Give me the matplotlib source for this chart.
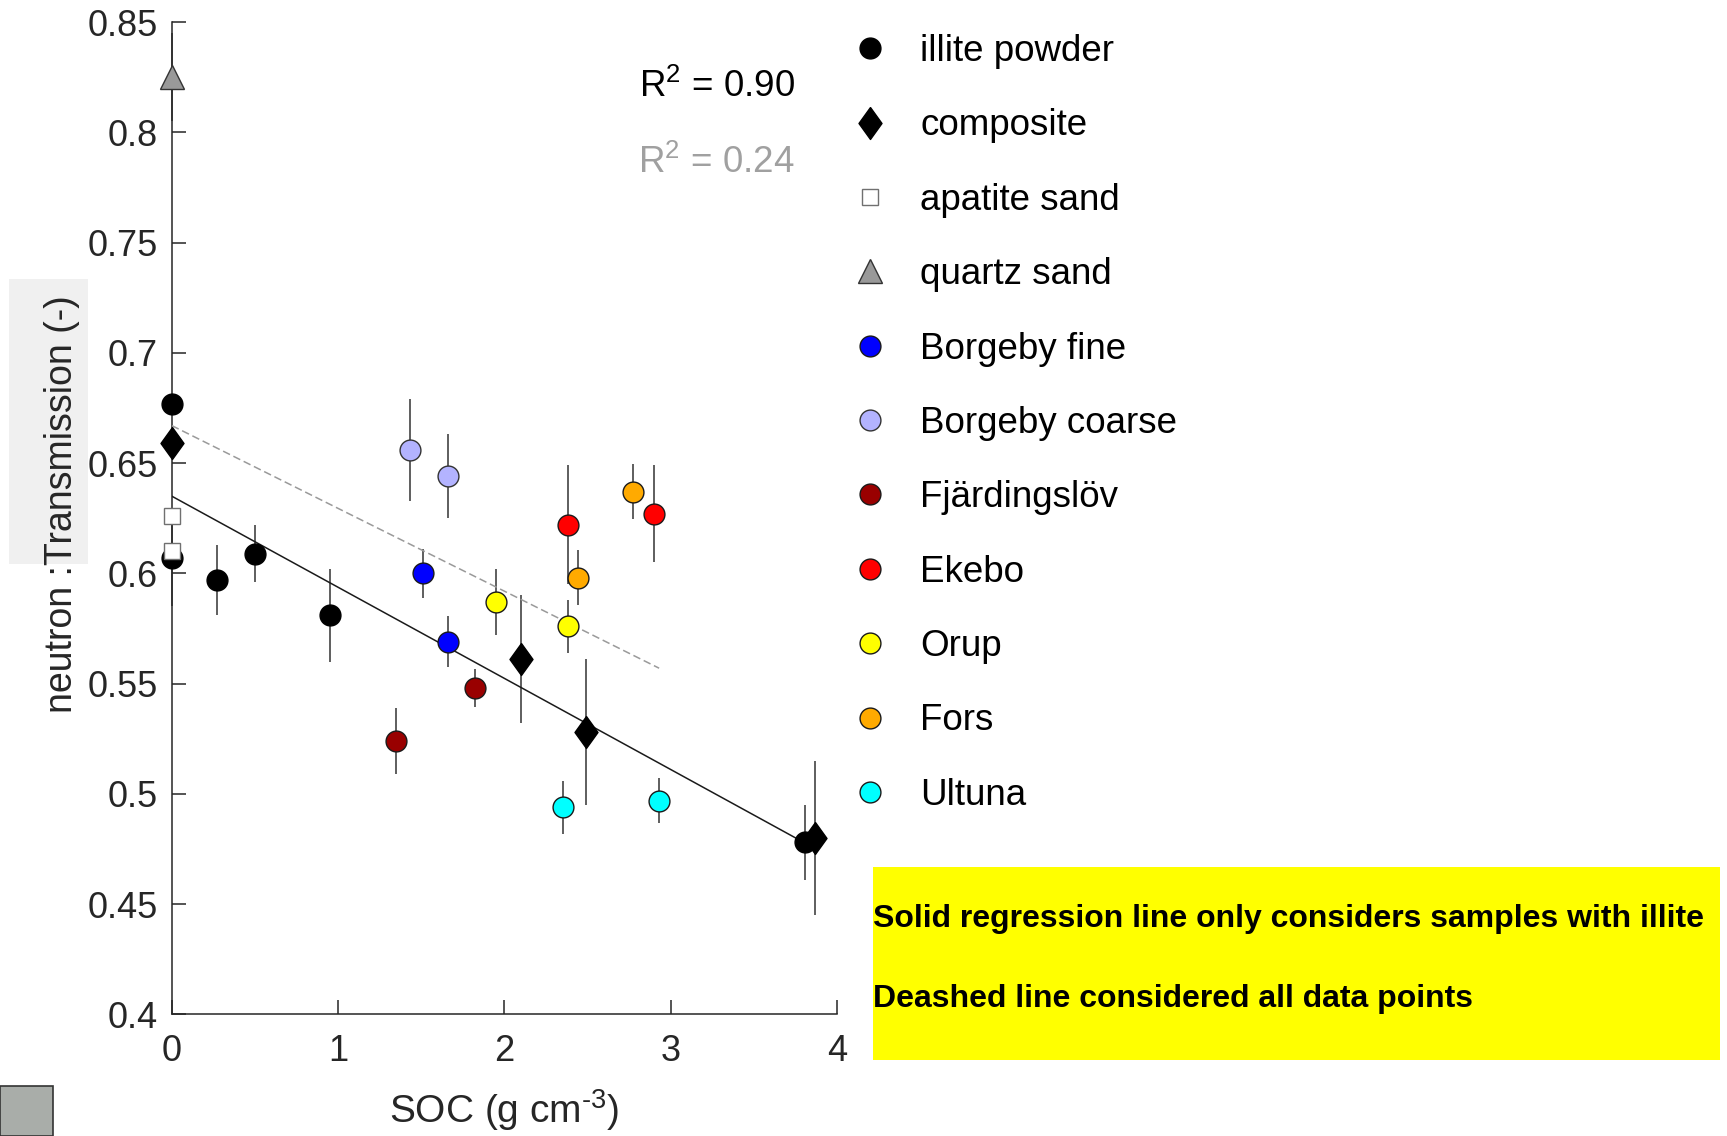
import numpy as np
import matplotlib
matplotlib.use("Agg")
import matplotlib.pyplot as plt
from matplotlib.lines import Line2D
from matplotlib.patches import Rectangle

# data: x = SOC, y = transmission, e = error bar half length
illite_x = [0.0, 0.0, 0.27, 0.50, 0.95, 3.81]
illite_y = [0.677, 0.607, 0.597, 0.609, 0.581, 0.478]
illite_e = [0.0, 0.022, 0.016, 0.013, 0.021, 0.017]

comp_x = [0.0, 2.10, 2.49, 3.87]
comp_y = [0.659, 0.561, 0.528, 0.480]
comp_e = [0.0, 0.029, 0.033, 0.035]

apatite_x = [0.0, 0.0]
apatite_y = [0.626, 0.610]
apatite_e = [0.0, 0.0]

quartz_x = [0.0]
quartz_y = [0.825]
quartz_e = [0.02]

bfine_x = [1.51, 1.66]
bfine_y = [0.600, 0.569]
bfine_e = [0.011, 0.0115]

bcoarse_x = [1.43, 1.66]
bcoarse_y = [0.656, 0.644]
bcoarse_e = [0.023, 0.019]

fjard_x = [1.35, 1.82]
fjard_y = [0.524, 0.548]
fjard_e = [0.015, 0.0085]

ekebo_x = [2.38, 2.90]
ekebo_y = [0.622, 0.627]
ekebo_e = [0.027, 0.022]

orup_x = [1.95, 2.38]
orup_y = [0.587, 0.576]
orup_e = [0.015, 0.012]

fors_x = [2.77, 2.44]
fors_y = [0.637, 0.598]
fors_e = [0.0125, 0.0125]

ultuna_x = [2.35, 2.93]
ultuna_y = [0.494, 0.497]
ultuna_e = [0.012, 0.010]

# regression lines (end points)
fit_illite_x = [0.0, 3.80]
fit_illite_y = [0.635, 0.478]
fit_all_x = [0.0, 2.93]
fit_all_y = [0.667, 0.557]

r2_illite = "0.90"
r2_all = "0.24"

yticks = [0.4, 0.45, 0.5, 0.55, 0.6, 0.65, 0.7, 0.75, 0.8, 0.85]
ytick_labels = ["0.4", "0.45", "0.5", "0.55", "0.6", "0.65", "0.7", "0.75", "0.8", "0.85"]
xticks = [0, 1, 2, 3, 4]

plt.rcParams['font.family'] = ['Liberation Sans', 'DejaVu Sans']
plt.rcParams['mathtext.fontset'] = 'custom'
plt.rcParams['mathtext.rm'] = 'Liberation Sans'
plt.rcParams['mathtext.it'] = 'Liberation Sans'

# MATLAB-like diamond (wider than matplotlib's thin 'd')
diamond = [(0, 1), (0.72, 0), (0, -1), (-0.72, 0), (0, 1)]

fig = plt.figure(figsize=(17.27, 11.36), dpi=100)
ax = fig.add_axes([0.0995, 0.107, 0.3852, 0.8736])

groups = [
    (illite_x, illite_y, illite_e, 'o', 'black', 'black', 15, 'illite powder'),
    (comp_x, comp_y, comp_e, diamond, 'black', 'black', 23, 'composite'),
    (apatite_x, apatite_y, apatite_e, 's', 'white', '#707070', 11, 'apatite sand'),
    (quartz_x, quartz_y, quartz_e, '^', '#999999', '#333333', 17, 'quartz sand'),
    (bfine_x, bfine_y, bfine_e, 'o', '#0000ff', '#1a1a1a', 15, 'Borgeby fine'),
    (bcoarse_x, bcoarse_y, bcoarse_e, 'o', '#b3b3ff', '#333333', 15, 'Borgeby coarse'),
    (fjard_x, fjard_y, fjard_e, 'o', '#990000', '#1a1a1a', 15, 'Fjärdingslöv'),
    (ekebo_x, ekebo_y, ekebo_e, 'o', '#ff0000', '#1a1a1a', 15, 'Ekebo'),
    (orup_x, orup_y, orup_e, 'o', '#ffff00', '#1a1a1a', 15, 'Orup'),
    (fors_x, fors_y, fors_e, 'o', '#ffaa00', '#1a1a1a', 15, 'Fors'),
    (ultuna_x, ultuna_y, ultuna_e, 'o', '#00ffff', '#1a1a1a', 15, 'Ultuna'),
]

for gx, gy, ge, m, fc, ec, ms, lab in groups:
    ax.errorbar(gx, gy, yerr=ge, fmt='none', ecolor='#333333', elinewidth=1.1,
                capsize=0, zorder=2, clip_on=False)

ax.plot(fit_illite_x, fit_illite_y, color='#1a1a1a', lw=1.1, zorder=3)
ax.plot(fit_all_x, fit_all_y, color='#9a9a9a', lw=1.1, ls=(0, (5, 2.5)), zorder=3)

handles = []
for gx, gy, ge, m, fc, ec, ms, lab in groups:
    ax.plot(gx, gy, ls='none', marker=m, ms=ms, mfc=fc, mec=ec, mew=1.0,
            zorder=4, clip_on=False)
    handles.append(Line2D([], [], ls='none', marker=m, ms=ms, mfc=fc, mec=ec,
                          mew=1.0, label=lab))

ax.set_xlim(0, 4)
ax.set_ylim(0.4, 0.85)
ax.set_xticks(xticks)
ax.set_yticks(yticks)
ax.set_yticklabels(ytick_labels)
for s in ['top', 'right']:
    ax.spines[s].set_visible(False)
for s in ['left', 'bottom']:
    ax.spines[s].set_color('#262626')
    ax.spines[s].set_linewidth(1.1)
ax.tick_params(direction='in', length=10, width=1.1, colors='#262626',
               labelsize=26, labelcolor='#262626')
ax.tick_params(axis='x', pad=14)
ax.tick_params(axis='y', pad=10)

ax.set_xlabel(r'SOC (g cm$^{\text{-3}}$)', fontsize=28, color='#262626')
ax.xaxis.set_label_coords(0.5, -0.073)

# light grey box behind the y label
fig.patches.append(Rectangle((9 / 1727, 1 - 564 / 1136), 79 / 1727, 285 / 1136,
                             transform=fig.transFigure, facecolor='#f0f0f0',
                             edgecolor='none', zorder=-5))
ax.set_ylabel('neutron :Transmission (-)', fontsize=27, color='#262626')
ax.yaxis.set_label_coords(-0.138, 0.514)

fig.text(795 / 1727, 1 - 97 / 1136, 'R$^2$ = ' + r2_illite, fontsize=26.5,
         ha='right', va='baseline', color='black')
fig.text(795 / 1727, 1 - 173 / 1136, 'R$^2$ = ' + r2_all, fontsize=26.5,
         ha='right', va='baseline', color='#a0a0a0')

fig.legend(handles=handles, loc='upper left', bbox_to_anchor=(852 / 1727, 1 - 34 / 1136),
           frameon=False, fontsize=26.5, handlelength=1.0, handletextpad=0.85,
           labelspacing=1.07, borderpad=0, borderaxespad=0)

# yellow note box
fig.patches.append(Rectangle((873 / 1727, 1 - 1060 / 1136), 847 / 1727, 193 / 1136,
                             transform=fig.transFigure, facecolor='#ffff00',
                             edgecolor='none', zorder=-5))
note_font = dict(family='Liberation Sans', fontsize=23, weight='bold')
fig.text(873 / 1727, 1 - 927 / 1136, 'Solid regression line only considers samples with illite',
         va='baseline', ha='left', color='black', **note_font)
fig.text(873 / 1727, 1 - 1007 / 1136, 'Deashed line considered all data points',
         va='baseline', ha='left', color='black', **note_font)

# small grey box in the lower left corner
fig.patches.append(Rectangle((0, 0), 53 / 1727, 50 / 1136, transform=fig.transFigure,
                             facecolor='#a9ada9', edgecolor='#333333', lw=1.2, zorder=-5))

fig.savefig('out.png', dpi=100)
